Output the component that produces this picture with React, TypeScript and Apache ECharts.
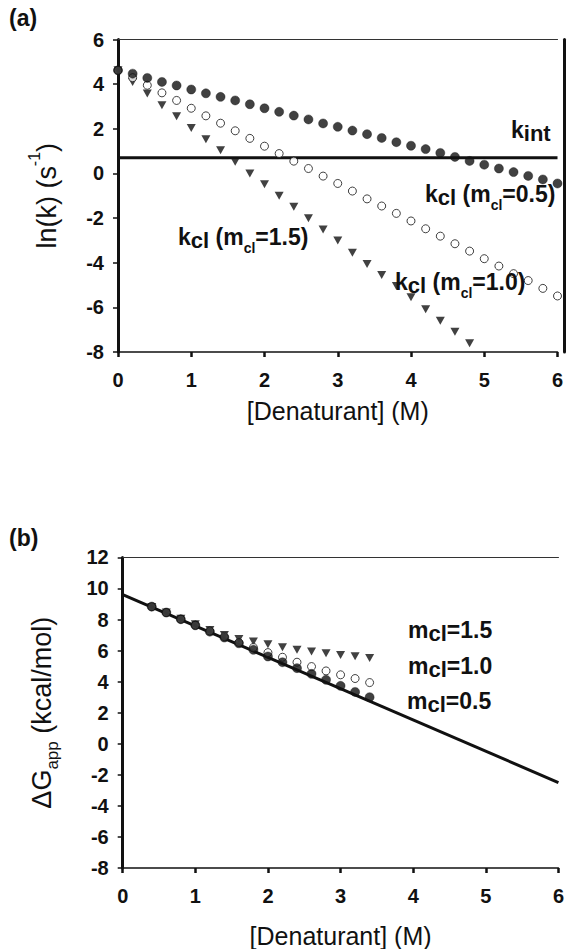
import React, { useEffect, useRef } from "react";
import * as echarts from "echarts";

const FONT = '"Liberation Sans", Arial, Helvetica, sans-serif';

// Panel (a): ln(k) vs [Denaturant]
const xA = [0, 0.2, 0.4, 0.6, 0.8, 1.0, 1.2, 1.4, 1.6, 1.8, 2.0, 2.2, 2.4, 2.6, 2.8, 3.0, 3.2, 3.4, 3.6, 3.8, 4.0, 4.2, 4.4, 4.6, 4.8, 5.0, 5.2, 5.4, 5.6, 5.8, 6.0];
const filledA = [4.62, 4.47, 4.28, 4.10, 3.94, 3.76, 3.59, 3.43, 3.27, 3.10, 2.92, 2.76, 2.59, 2.42, 2.24, 2.09, 1.92, 1.76, 1.59, 1.40, 1.24, 1.09, 0.92, 0.74, 0.56, 0.39, 0.22, 0.06, -0.11, -0.27, -0.45];
const openA = [4.62, 4.29, 3.95, 3.61, 3.27, 2.92, 2.58, 2.25, 1.91, 1.57, 1.22, 0.89, 0.55, 0.22, -0.12, -0.45, -0.79, -1.14, -1.46, -1.79, -2.13, -2.48, -2.81, -3.15, -3.48, -3.82, -4.15, -4.49, -4.80, -5.15, -5.49];
const triA = [4.62, 4.10, 3.58, 3.06, 2.56, 2.04, 1.53, 1.04, 0.52, 0.0, -0.49, -1.0, -1.49, -2.01, -2.51, -3.01, -3.55, -4.06, -4.55, -5.04, -5.55, -6.09, -6.60, -7.09, -7.61];
const kintX = [0, 6];
const kintY = [0.7, 0.7];

// Panel (b): ΔGapp vs [Denaturant]
const xB = [0.4, 0.6, 0.8, 1.0, 1.2, 1.4, 1.6, 1.8, 2.0, 2.2, 2.4, 2.6, 2.8, 3.0, 3.2, 3.4];
const filledB = [8.83, 8.45, 8.02, 7.63, 7.22, 6.84, 6.47, 6.05, 5.62, 5.25, 4.87, 4.50, 4.12, 3.73, 3.34, 3.00];
const openB = [8.83, 8.45, 8.02, 7.63, 7.26, 6.90, 6.52, 6.20, 5.87, 5.57, 5.25, 4.97, 4.69, 4.44, 4.20, 3.94];
const triB = [8.80, 8.45, 8.05, 7.70, 7.33, 7.01, 6.75, 6.58, 6.41, 6.22, 6.05, 5.94, 5.83, 5.72, 5.64, 5.53];
const lineBX = [0, 6];
const lineBY = [9.6, -2.5];

const zip = (xs: number[], ys: number[]) => ys.map((y, i) => [xs[i], y]);

const TXT = "#111";

const labelRich = {
  b: { fontSize: 23, fontWeight: "bold", fontFamily: FONT, fill: TXT, verticalAlign: "bottom", padding: [0, 0, 6, 0] },
  c: { fontSize: 22, fontWeight: "bold", fontFamily: FONT, fill: TXT, verticalAlign: "bottom", padding: [0, 0, 3, 0] },
  s: { fontSize: 14, fontWeight: "bold", fontFamily: FONT, fill: TXT, verticalAlign: "bottom", padding: [0, 0, 0, 0] },
};

function note(text: string, x: number, y: number) {
  return {
    type: "text",
    x,
    y,
    z: 100,
    style: { text, rich: labelRich, fill: TXT, align: "left", verticalAlign: "middle", font: `bold 23px ${FONT}` },
  };
}

function scatterSeries(xi: number, yi: number, data: number[][], kind: string) {
  const base: any = {
    type: "scatter",
    xAxisIndex: xi,
    yAxisIndex: yi,
    data,
    silent: true,
  };
  if (kind === "filled") {
    base.symbol = "circle";
    base.symbolSize = 9;
    base.itemStyle = { color: "#111", borderColor: "#111", borderWidth: 0.5 };
    base.z = 4;
  } else if (kind === "open") {
    base.symbol = "circle";
    base.symbolSize = 8;
    base.itemStyle = { color: "#fff", borderColor: "#111", borderWidth: 1 };
    base.z = 3;
  } else {
    base.symbol = "triangle";
    base.symbolRotate = 180;
    base.symbolSize = [9, 8];
    base.itemStyle = { color: "#111" };
    base.z = 2;
  }
  return base;
}

function lineSeries(xi: number, yi: number, data: number[][]) {
  return {
    type: "line",
    xAxisIndex: xi,
    yAxisIndex: yi,
    data,
    symbol: "none",
    silent: true,
    lineStyle: { color: "#111", width: 3 },
    z: 1,
  };
}

const tickLabel = { fontSize: 20, fontWeight: "bold", fontFamily: FONT, color: TXT };

function bottomX(gridIndex: number, margin: number, nameGap: number) {
  return {
    type: "value",
    gridIndex,
    min: 0,
    max: 6,
    interval: 1,
    position: "bottom",
    axisLine: { show: true, onZero: false, lineStyle: { color: "#111", width: 1.5 } },
    axisTick: { show: true, inside: false, length: 5, lineStyle: { color: "#111", width: 2.5 } },
    axisLabel: { ...tickLabel, margin },
    splitLine: { show: false },
    name: "[Denaturant] (M)",
    nameLocation: "middle",
    nameGap,
    nameTextStyle: { fontSize: 25, fontFamily: FONT, color: TXT },
  };
}

function topX(gridIndex: number) {
  return {
    type: "value",
    gridIndex,
    min: 0,
    max: 6,
    interval: 1,
    position: "top",
    axisLine: { show: true, onZero: false, lineStyle: { color: "#333", width: 1.2 } },
    axisTick: { show: false },
    axisLabel: { show: false },
    splitLine: { show: false },
  };
}

export default function App() {
  const ref = useRef<HTMLDivElement>(null);
  useEffect(() => {
    if (!ref.current) return;
    const chart = echarts.init(ref.current, null, { renderer: "svg" });
    const option: any = {
      animation: false,
      backgroundColor: "#fff",
      grid: [
        { left: 118, top: 39.5, width: 439.5, height: 312.5, containLabel: false },
        { left: 122.7, top: 557.4, width: 439.6, height: 311, containLabel: false },
      ],
      xAxis: [bottomX(0, 18, 46), topX(0), bottomX(1, 18, 55), topX(1)],
      yAxis: [
        {
          type: "value",
          gridIndex: 0,
          min: -8,
          max: 6,
          interval: 2,
          position: "left",
          axisLine: { show: true, onZero: false, lineStyle: { color: "#111", width: 3 } },
          axisTick: { show: true, inside: false, length: 5, lineStyle: { color: "#111", width: 1.5 } },
          axisLabel: { ...tickLabel, margin: 14 },
          splitLine: { show: false },
          name: "{n|ln(k) (s}{p|-1}{n|)}",
          nameLocation: "middle",
          nameRotate: 90,
          nameGap: 58,
          nameTextStyle: {
            rich: {
              n: { fontSize: 27, fontFamily: FONT, color: TXT, verticalAlign: "top", padding: [7, 0, 0, 0] },
              p: { fontSize: 16, fontFamily: FONT, color: TXT, verticalAlign: "top", padding: [0, 0, 0, 0] },
            },
          },
        },
        {
          type: "value",
          gridIndex: 0,
          min: -8,
          max: 6,
          interval: 2,
          position: "right",
          offset: 7,
          axisLine: { show: true, onZero: false, lineStyle: { color: "#111", width: 3 } },
          axisTick: { show: false },
          axisLabel: { show: false },
          splitLine: { show: false },
        },
        {
          type: "value",
          gridIndex: 1,
          min: -8,
          max: 12,
          interval: 2,
          position: "left",
          axisLine: { show: true, onZero: false, lineStyle: { color: "#111", width: 3 } },
          axisTick: { show: true, inside: false, length: 5, lineStyle: { color: "#111", width: 1.5 } },
          axisLabel: { ...tickLabel, margin: 14 },
          splitLine: { show: false },
          name: "{n|ΔG}{s|app}{n| (kcal/mol)}",
          nameLocation: "middle",
          nameRotate: 90,
          nameGap: 62,
          nameTextStyle: {
            rich: {
              n: { fontSize: 27, fontFamily: FONT, color: TXT, verticalAlign: "bottom", padding: [0, 0, 5, 0] },
              s: { fontSize: 17, fontFamily: FONT, color: TXT, verticalAlign: "bottom", padding: [0, 0, 0, 0] },
            },
          },
        },
      ],
      series: [
        lineSeries(0, 0, zip(kintX, kintY)),
        scatterSeries(0, 0, zip(xA, triA), "tri"),
        scatterSeries(0, 0, zip(xA, openA), "open"),
        scatterSeries(0, 0, zip(xA, filledA), "filled"),
        lineSeries(2, 2, zip(lineBX, lineBY)),
        scatterSeries(2, 2, zip(xB, triB), "tri"),
        scatterSeries(2, 2, zip(xB, openB), "open"),
        scatterSeries(2, 2, zip(xB, filledB), "filled"),
      ],
      graphic: [
        { type: "text", x: 9, y: 6, style: { text: "(a)", font: `bold 23px ${FONT}`, fill: TXT } },
        { type: "text", x: 9, y: 526, style: { text: "(b)", font: `bold 23px ${FONT}`, fill: TXT } },
        note("{b|k}{c|int}", 511, 133),
        note("{b|k}{c|cl}{b| (m}{s|cl}{b|=0.5)}", 425, 197),
        note("{b|k}{c|cl}{b| (m}{s|cl}{b|=1.5)}", 178, 240),
        note("{b|k}{c|cl}{b| (m}{s|cl}{b|=1.0)}", 395, 285),
        note("{b|m}{c|cl}{b|=1.5}", 408, 633),
        note("{b|m}{c|cl}{b|=1.0}", 408, 669),
        note("{b|m}{c|cl}{b|=0.5}", 407, 704),
      ],
    };
    chart.setOption(option);
    return () => chart.dispose();
  }, []);
  return (
    <div
      ref={ref}
      style={{ position: "absolute", left: 0, top: 0, width: 567, height: 949, background: "#fff" }}
    />
  );
}
